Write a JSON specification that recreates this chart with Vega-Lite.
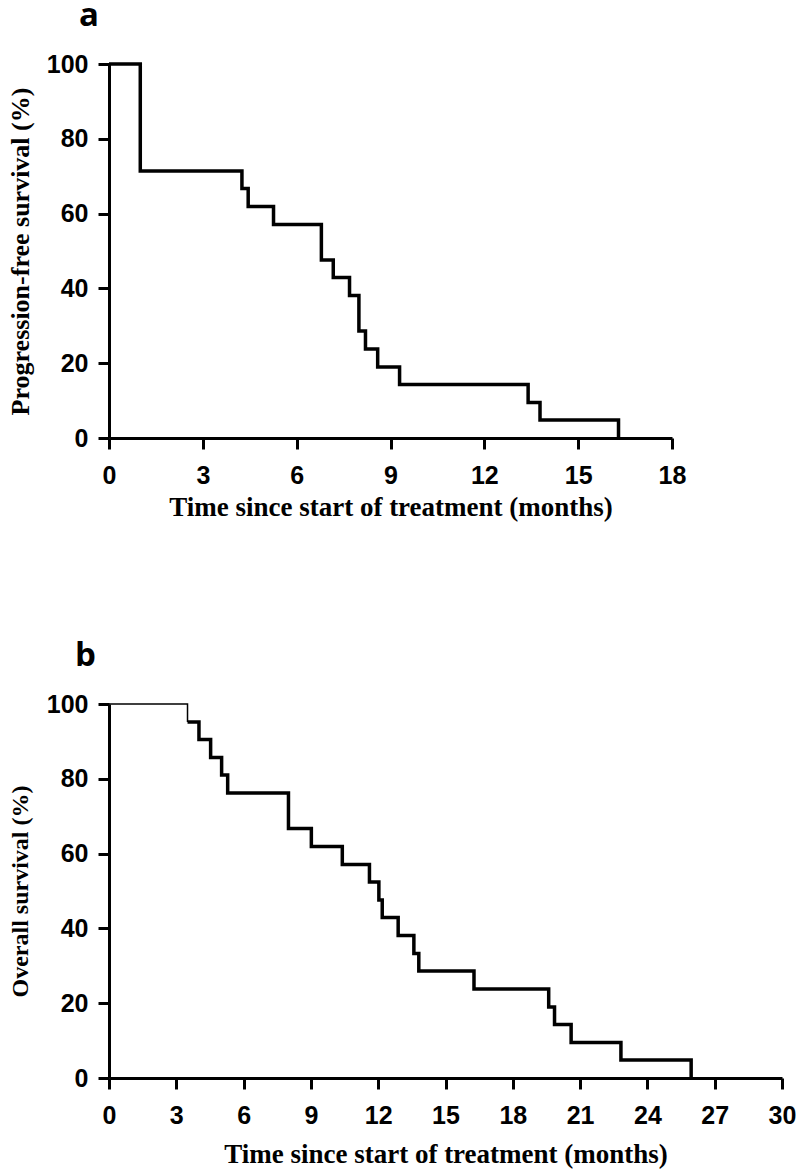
{
  "$schema": "https://vega.github.io/schema/vega-lite/v6.json",
  "background": "white",
  "padding": {"left": 7, "top": 0, "right": 5, "bottom": 5},
  "spacing": 120,
  "config": {
    "view": {"stroke": null},
    "axis": {
      "grid": false,
      "domainColor": "black",
      "domainWidth": 3,
      "tickColor": "black",
      "tickWidth": 3,
      "tickSize": 11,
      "labelFont": "Liberation Sans",
      "labelFontWeight": "bold",
      "labelFontSize": 25,
      "labelColor": "black",
      "labelFlush": false,
      "labelOverlap": false,
      "titleFont": "Liberation Serif",
      "titleFontWeight": "bold",
      "titleFontSize": 24,
      "titleColor": "black"
    },
    "title": {
      "font": "Open Sans",
      "fontWeight": "bold",
      "fontSize": 33,
      "color": "black",
      "anchor": "start",
      "frame": "group",
      "baseline": "alphabetic"
    }
  },
  "datasets": {
    "pfs": [
      {"t": 0, "s": 100},
      {"t": 1.0, "s": 71.4},
      {"t": 4.25, "s": 66.7},
      {"t": 4.45, "s": 61.9},
      {"t": 5.26, "s": 57.1},
      {"t": 6.79, "s": 47.6},
      {"t": 7.17, "s": 42.9},
      {"t": 7.69, "s": 38.1},
      {"t": 7.99, "s": 28.6},
      {"t": 8.2, "s": 23.8},
      {"t": 8.59, "s": 19.0},
      {"t": 9.29, "s": 14.3},
      {"t": 13.4, "s": 9.5},
      {"t": 13.78, "s": 4.8},
      {"t": 16.29, "s": 0}
    ],
    "os": [
      {"t": 0, "s": 100},
      {"t": 3.5, "s": 95.2},
      {"t": 4.01, "s": 90.5},
      {"t": 4.53, "s": 85.7},
      {"t": 5.02, "s": 81.0},
      {"t": 5.29, "s": 76.2},
      {"t": 8.0, "s": 66.7},
      {"t": 9.02, "s": 61.9},
      {"t": 10.4, "s": 57.1},
      {"t": 11.61, "s": 52.4},
      {"t": 12.03, "s": 47.6},
      {"t": 12.18, "s": 42.9},
      {"t": 12.89, "s": 38.1},
      {"t": 13.59, "s": 33.3},
      {"t": 13.81, "s": 28.6},
      {"t": 16.27, "s": 23.8},
      {"t": 19.6, "s": 19.0},
      {"t": 19.86, "s": 14.3},
      {"t": 20.6, "s": 9.5},
      {"t": 22.82, "s": 4.8},
      {"t": 25.95, "s": 0}
    ]
  },
  "vconcat": [
    {
      "title": {"text": "a", "dx": -30, "offset": 19},
      "width": 563,
      "height": 374,
      "data": {"name": "pfs"},
      "mark": {"type": "line", "interpolate": "step-after", "color": "black", "strokeWidth": 3.5},
      "encoding": {
        "x": {
          "field": "t", "type": "quantitative",
          "scale": {"domain": [0, 18], "nice": false},
          "axis": {"values": [0, 3, 6, 9, 12, 15, 18], "title": "Time since start of treatment (months)", "titleFontSize": 27, "labelPadding": 14, "titlePadding": 6}
        },
        "y": {
          "field": "s", "type": "quantitative",
          "scale": {"domain": [0, 100], "nice": false},
          "axis": {"values": [0, 20, 40, 60, 80, 100], "title": "Progression-free survival (%)", "titleFontSize": 26, "labelPadding": 10, "titlePadding": 13}
        }
      }
    },
    {
      "title": {"text": "b", "dx": -34, "offset": 19},
      "width": 673,
      "height": 374,
      "data": {"name": "os"},
      "encoding": {
        "x": {
          "field": "t", "type": "quantitative",
          "scale": {"domain": [0, 30], "nice": false},
          "axis": {"values": [0, 3, 6, 9, 12, 15, 18, 21, 24, 27, 30], "title": "Time since start of treatment (months)", "titleFontSize": 27, "labelPadding": 14, "titlePadding": 13}
        },
        "y": {
          "field": "s", "type": "quantitative",
          "scale": {"domain": [0, 100], "nice": false},
          "axis": {"values": [0, 20, 40, 60, 80, 100], "title": "Overall survival (%)", "labelPadding": 10, "titlePadding": 14}
        }
      },
      "layer": [
        {
          "transform": [{"filter": "datum.t <= 3.5"}],
          "mark": {"type": "line", "interpolate": "step-after", "color": "black", "strokeWidth": 1.5}
        },
        {
          "transform": [{"filter": "datum.t >= 3.5"}],
          "mark": {"type": "line", "interpolate": "step-after", "color": "black", "strokeWidth": 3.5}
        }
      ]
    }
  ]
}
